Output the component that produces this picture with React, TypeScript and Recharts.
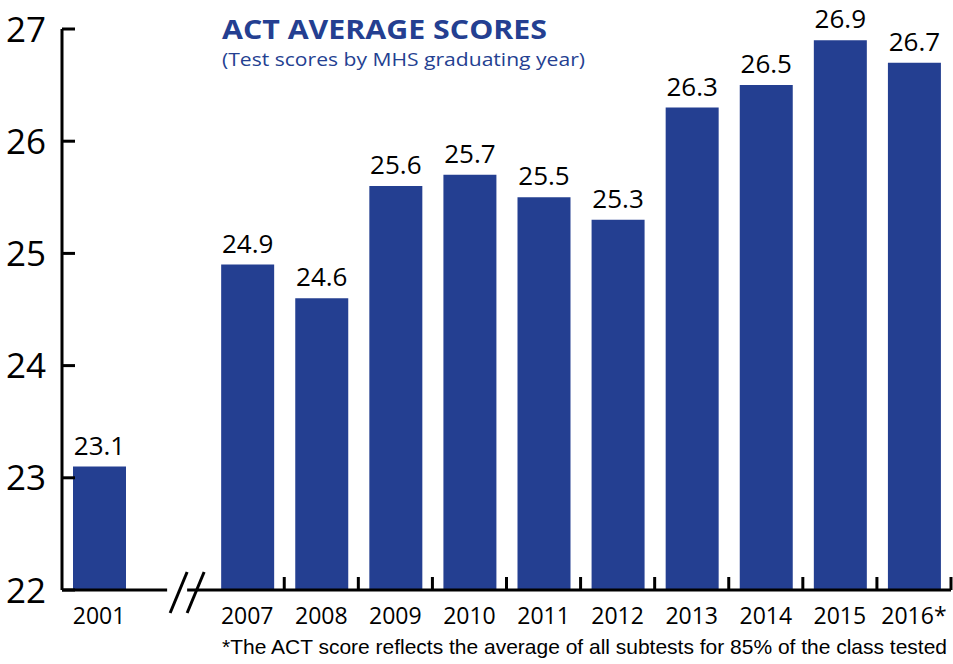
import React from 'react'
import { BarChart, Bar, XAxis, YAxis, LabelList } from 'recharts'

// graduating years; '' is the spacer slot for the axis break
const years = ['2001', '', '2007', '2008', '2009', '2010', '2011', '2012', '2013', '2014', '2015', '2016*']
const scores: Array<number | null> = [23.1, null, 24.9, 24.6, 25.6, 25.7, 25.5, 25.3, 26.3, 26.5, 26.9, 26.7]
const yTicks = [22, 23, 24, 25, 26, 27]

const title = 'ACT AVERAGE SCORES'
const subtitle = '(Test scores by MHS graduating year)'
const footnote = '*The ACT score reflects the average of all subtests for 85% of the class tested'

const data = years.map((year, i) => ({ year, score: scores[i] }))

const BLUE = '#243f91'
const FONT = '"Open Sans", sans-serif'

// y ticks point inward, into the plot
const YTick = (props: any) => {
  const { x, y, payload } = props
  return (
    <g>
      <line x1={x + 16} x2={x + 29} y1={y} y2={y} stroke="#000" strokeWidth={3} />
      <text x={x} y={y} dy="0.36em" textAnchor="end" fontSize={35} fontFamily={FONT} fill="#000">
        {payload.value}
      </text>
    </g>
  )
}

// x ticks sit on the category boundaries, plus the "//" break in the spacer slot
const XTick = (props: any) => {
  const { x, y, payload, index } = props
  const half = payload.offset || 36
  if (payload.value === '') {
    return (
      <g>
        <rect x={x - 6} y={y - 4} width={20} height={8} fill="#fff" />
        <line x1={x - 3} y1={y + 23} x2={x + 14} y2={y - 18} stroke="#000" strokeWidth={3} />
        <line x1={x + 14} y1={y + 23} x2={x + 31} y2={y - 18} stroke="#000" strokeWidth={3} />
      </g>
    )
  }
  return (
    <g>
      {index >= 2 && (
        <line x1={x + half} x2={x + half} y1={y} y2={y - 13} stroke="#000" strokeWidth={3} />
      )}
      <text x={x} y={y + 34} textAnchor="middle" fontSize={23} fontFamily={FONT} fill="#000">
        {payload.value}
      </text>
    </g>
  )
}

export default function App() {
  return (
    <div style={{ position: 'absolute', left: 0, top: 0, background: '#fff' }}>
      <BarChart
        width={953}
        height={664}
        data={data}
        margin={{ top: 29, right: 2, bottom: 0, left: 0 }}
        barSize={53}
      >
        <XAxis
          dataKey="year"
          height={74}
          interval={0}
          tickSize={0}
          tickMargin={0}
          tickLine={false}
          axisLine={{ stroke: '#000', strokeWidth: 3 }}
          tick={<XTick />}
        />
        <YAxis
          width={62}
          domain={[22, 27]}
          ticks={yTicks}
          allowDataOverflow
          tickSize={0}
          tickMargin={16}
          tickLine={false}
          axisLine={{ stroke: '#000', strokeWidth: 3 }}
          tick={<YTick />}
        />
        <Bar dataKey="score" fill={BLUE} isAnimationActive={false}>
          <LabelList
            dataKey="score"
            position="top"
            offset={12}
            fontSize={26}
            fontFamily={FONT}
            fill="#000"
            formatter={(v: any) => (v == null ? '' : Number(v).toFixed(1))}
          />
        </Bar>
        <text x={222} y={39} fontSize={27} fontWeight={700} fontFamily={FONT} fill={BLUE} textLength={325} lengthAdjust="spacingAndGlyphs">
          {title}
        </text>
        <text x={222} y={66} fontSize={19} fontFamily={FONT} fill={BLUE} textLength={363} lengthAdjust="spacingAndGlyphs">
          {subtitle}
        </text>
        <text x={222} y={654} fontSize={21} fontFamily='"Liberation Sans Narrow", "Liberation Sans", sans-serif' fill="#000" textLength={725} lengthAdjust="spacingAndGlyphs">
          {footnote}
        </text>
      </BarChart>
    </div>
  )
}
